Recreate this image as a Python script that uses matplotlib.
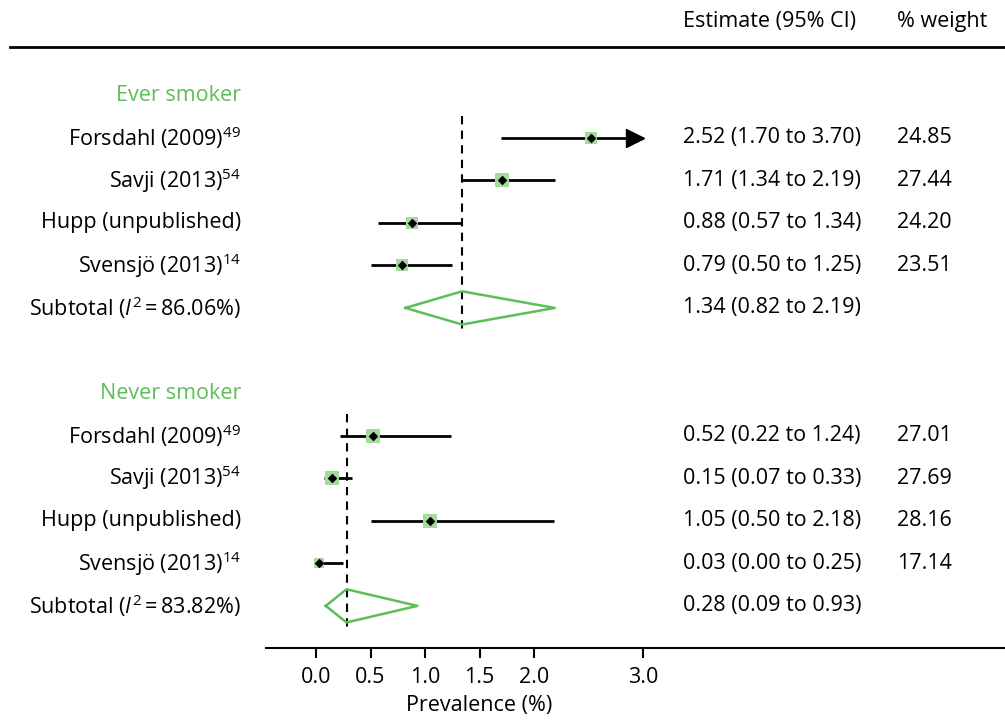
import numpy as np
import matplotlib.pyplot as plt

plt.rcParams['font.family'] = ['Open Sans', 'DejaVu Sans']
plt.rcParams['mathtext.fontset'] = 'custom'
plt.rcParams['mathtext.rm'] = 'Open Sans'
plt.rcParams['mathtext.it'] = 'Open Sans:italic'

# study rows
labels = ["Forsdahl (2009)$^{49}$", "Savji (2013)$^{54}$", "Hupp (unpublished)", "Svensjö (2013)$^{14}$"]
ever_est = [2.52, 1.71, 0.88, 0.79]
ever_lo = [1.70, 1.34, 0.57, 0.50]
ever_hi = [3.70, 2.19, 1.34, 1.25]
ever_w = [24.85, 27.44, 24.20, 23.51]
ever_sub = (1.34, 0.82, 2.19, "86.06")

never_est = [0.52, 0.15, 1.05, 0.03]
never_lo = [0.22, 0.07, 0.50, 0.00]
never_hi = [1.24, 0.33, 2.18, 0.25]
never_w = [27.01, 27.69, 28.16, 17.14]
never_sub = (0.28, 0.09, 0.93, "83.82")

groups = [("Ever smoker", ever_est, ever_lo, ever_hi, ever_w, ever_sub),
          ("Never smoker", never_est, never_lo, never_hi, never_w, never_sub)]

xmax = 3.0
green = '#5cbf57'
sqcol = '#a6d99c'

fig = plt.figure(figsize=(10.05, 7.2), dpi=100)
ax = fig.add_axes([0, 0.1, 1, 0.8347])
px = 3.0 / 327.0
ax.set_xlim(-316 * px, 3.0 + 362 * px)
ax.set_ylim(12.99, -1.13)

fs = 15.5
def xfrac(p):
    return p / 1005.0

tr = ax.get_yaxis_transform()  # x in axes fraction, y in data

ax.text(xfrac(683), -1.73, "Estimate (95% CI)", transform=tr, fontsize=fs, va='center', ha='left', clip_on=False)
ax.text(xfrac(897), -1.73, "% weight", transform=tr, fontsize=fs, va='center', ha='left', clip_on=False)

row0 = 0
for gname, est, lo, hi, w, sub in groups:
    ax.text(xfrac(241), row0, gname, transform=tr, fontsize=fs, color=green, ha='right', va='center')
    for i in range(4):
        r = row0 + 1 + i
        ax.text(xfrac(241), r, labels[i], transform=tr, fontsize=fs, ha='right', va='center')
        h = min(hi[i], xmax)
        ax.plot([lo[i], h], [r, r], color='black', lw=2, solid_capstyle='butt', zorder=2)
        if hi[i] > xmax:
            ax.plot([xmax - 0.07], [r], marker='>', markersize=13, color='black', zorder=3)
        side = 2.55 * np.sqrt(w[i]) * 0.72
        ax.scatter([est[i]], [r], marker='s', s=side ** 2, color=sqcol, lw=0, zorder=3)
        ax.scatter([est[i]], [r], marker='D', s=24, color='black', lw=0, zorder=4)
        ax.text(xfrac(683), r, "%.2f (%.2f to %.2f)" % (est[i], lo[i], hi[i]), transform=tr,
                fontsize=fs, ha='left', va='center')
        ax.text(xfrac(897), r, "%.2f" % w[i], transform=tr, fontsize=fs, ha='left', va='center')
    rs = row0 + 5
    e, l, u, i2 = sub
    ax.plot([l, e, u, e, l], [rs, rs - 0.39, rs, rs + 0.39, rs], color=green, lw=1.8, zorder=3)
    ax.plot([e, e], [row0 + 0.5, rs + 0.5], color='black', lw=1.5, ls=(0, (4, 3)), zorder=1)
    ax.text(xfrac(241), rs, "Subtotal ($I^2$\u2009=\u2009%s%%)" % i2, transform=tr, fontsize=fs,
            ha='right', va='center')
    ax.text(xfrac(683), rs, "%.2f (%.2f to %.2f)" % (e, l, u), transform=tr, fontsize=fs,
            ha='left', va='center')
    row0 += 7

for s in ['left', 'right']:
    ax.spines[s].set_visible(False)
ax.spines['top'].set_linewidth(2)
ax.spines['top'].set_bounds(-306 * px, 3.0 + 362 * px)
ax.spines['bottom'].set_linewidth(1.5)
ax.spines['bottom'].set_bounds(-50 * px, 3.0 + 362 * px)
ax.set_yticks([])
ax.set_xticks([0.0, 0.5, 1.0, 1.5, 2.0, 3.0])
ax.set_xticklabels(["0.0", "0.5", "1.0", "1.5", "2.0", "3.0"], fontsize=fs)
ax.tick_params(axis='x', length=7, width=1.5, pad=7)
ax.text(1.5, -0.095, "Prevalence (%)", transform=ax.get_xaxis_transform(), fontsize=fs,
        ha='center', va='center')

fig.savefig("out.png", dpi=100)
